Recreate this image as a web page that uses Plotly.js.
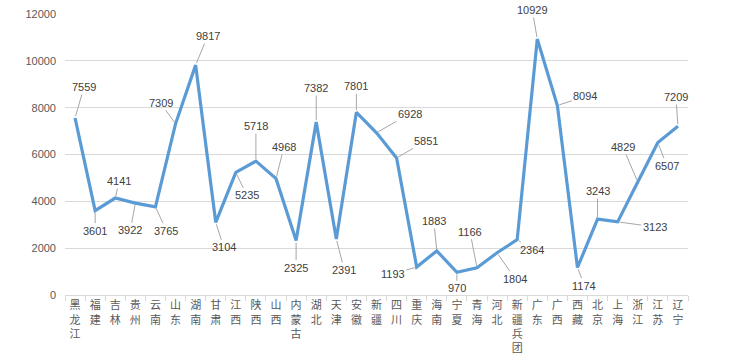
<!DOCTYPE html>
<html>
<head>
<meta charset="utf-8">
<script src="https://cdn.plot.ly/plotly-3.0.1.min.js"></script>
<style>html,body{margin:0;padding:0;background:#fff;}#chart{width:740px;height:362px;}</style>
</head>
<body>
<div id="chart"></div>
<script>
const categories = ["黑龙江","福建","吉林","贵州","云南","山东","湖南","甘肃","江西","陕西","山西","内蒙古","湖北","天津","安徽","新疆","四川","重庆","海南","宁夏","青海","河北","新疆兵团","广东","广西","西藏","北京","上海","浙江","江苏","辽宁"];
const values = [7559,3601,4141,3922,3765,7309,9817,3104,5235,5718,4968,2325,7382,2391,7801,6928,5851,1193,1883,970,1166,1804,2364,10929,8094,1174,3243,3123,4829,6507,7209];
const yTicks = [0,2000,4000,6000,8000,10000,12000];

// label offsets (pixels) for the data-label leader lines
const labelOffsets = [[9,-31],[0,20],[4,-17],[-5,27],[11,24],[-15,-21],[12,-29],[8,25],[11,23],[0,-35],[8,-32],[0,27],[0,-34],[8,31],[0,-26],[33,-19],[29,-17],[-24,7],[-3,-30],[0,16],[-7,-36],[18,26],[15,10],[-5,-29],[28,-9],[7,18],[0,-28],[37,5],[-15,-35],[9,23],[-2,-29]];

const vertical = categories.map(c => Array.from(c).join('<br>'));

const annotations = categories.map((c, i) => ({
  x: c, y: values[i], xref: 'x', yref: 'y',
  text: String(values[i]),
  showarrow: true, arrowhead: 0, arrowwidth: 1, arrowcolor: '#a6a6a6',
  ax: labelOffsets[i][0], ay: labelOffsets[i][1],
  standoff: 2, startstandoff: 0,
  font: {family: 'Liberation Sans, Arial, sans-serif', size: 11, color: '#404040'}
}));

const trace = {
  type: 'scatter', mode: 'lines',
  x: categories, y: values,
  line: {color: '#5b9bd5', width: 3.2},
  hoverinfo: 'x+y'
};

const layout = {
  width: 740, height: 362,
  margin: {l: 65, r: 52, t: 14, b: 67},
  paper_bgcolor: '#fff', plot_bgcolor: '#fff',
  showlegend: false,
  xaxis: {
    type: 'category',
    tickvals: categories, ticktext: vertical,
    tickson: 'boundaries', ticks: 'outside', ticklen: 5, tickcolor: '#d9d9d9',
    showline: true, linecolor: '#d9d9d9', linewidth: 1,
    showgrid: false, tickangle: 0,
    tickfont: {family: 'Noto Sans CJK SC, sans-serif', size: 11, color: '#595959'},
    range: [-0.5, categories.length - 0.5], fixedrange: true
  },
  yaxis: {
    range: [0, 12000], tickvals: yTicks, ticktext: yTicks.map(String),
    showgrid: true, gridcolor: '#d9d9d9', gridwidth: 1,
    zeroline: false, showline: false, ticks: '',
    ticklabelstandoff: 8,
    tickfont: {family: 'Liberation Sans, Arial, sans-serif', size: 11, color: '#595959'},
    fixedrange: true
  },
  annotations: annotations
};

Plotly.newPlot('chart', [trace], layout, {displayModeBar: false, staticPlot: true});
</script>
</body>
</html>
